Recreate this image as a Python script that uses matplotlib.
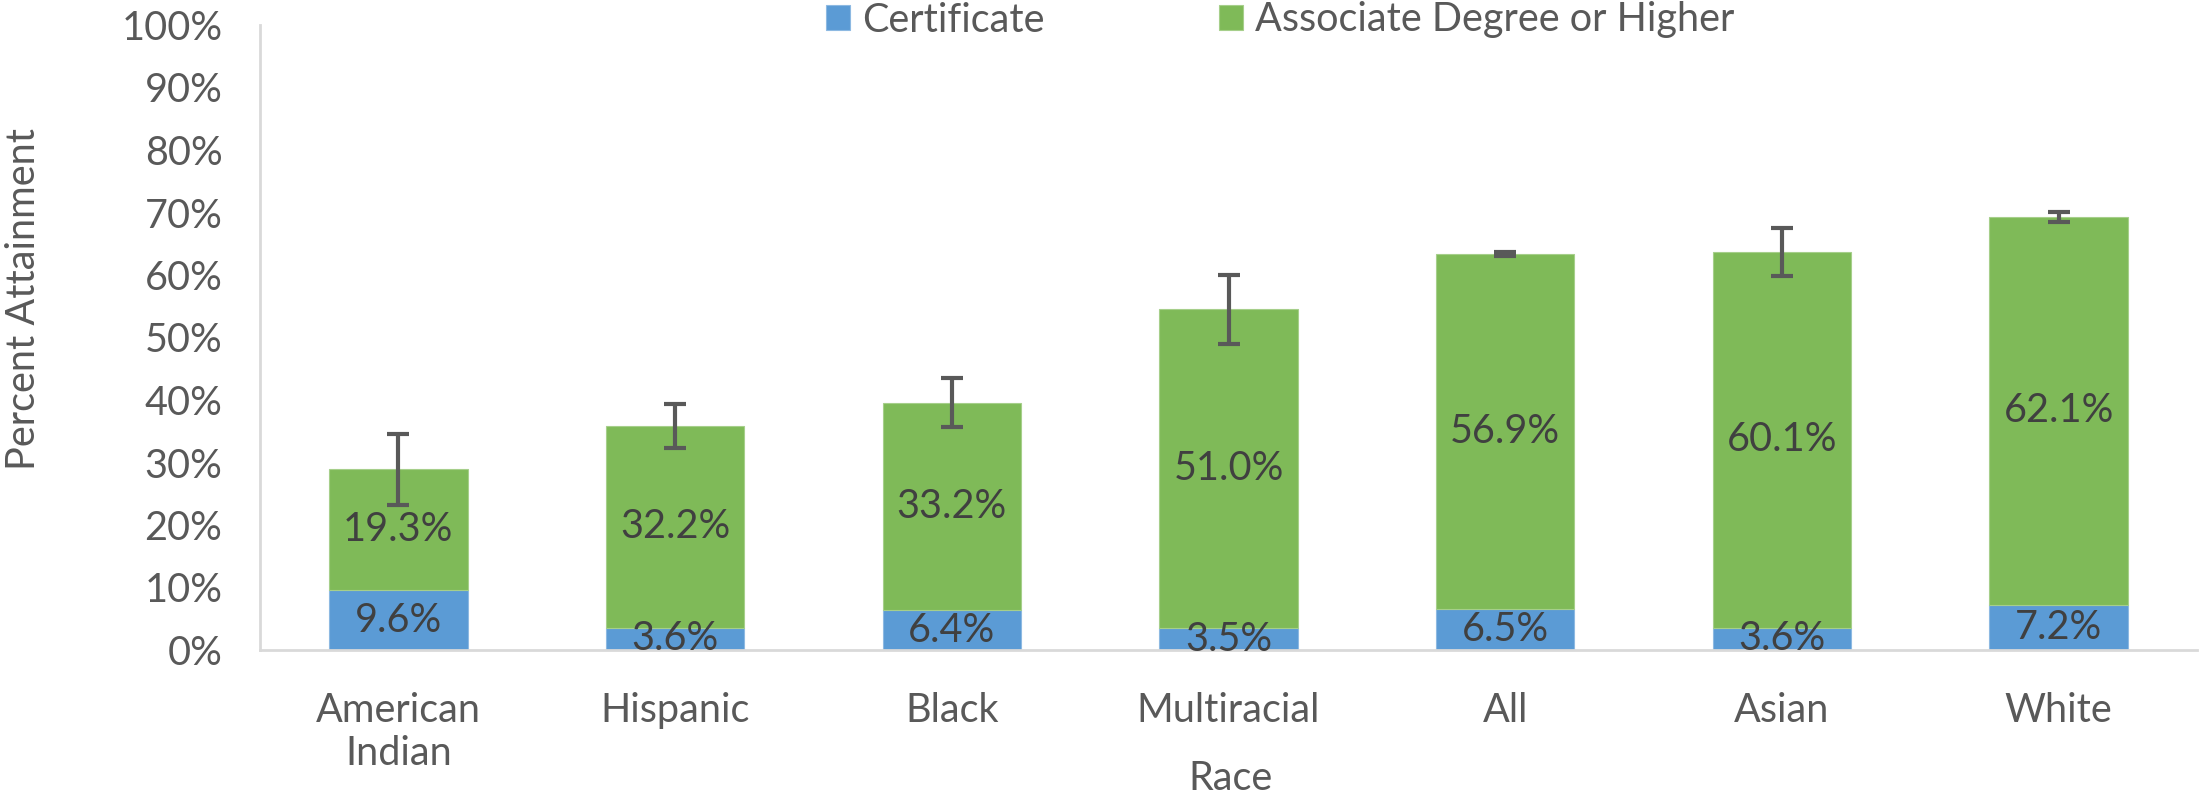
import matplotlib
matplotlib.use("Agg")
import matplotlib.pyplot as plt
import numpy as np
from matplotlib.ticker import PercentFormatter

categories = ["American\nIndian", "Hispanic", "Black", "Multiracial", "All", "Asian", "White"]
certificate = [9.6, 3.6, 6.4, 3.5, 6.5, 3.6, 7.2]
associate_plus = [19.3, 32.2, 33.2, 51.0, 56.9, 60.1, 62.1]
error = [5.7, 3.5, 3.9, 5.5, 0.35, 3.8, 0.8]

BLUE = "#5B9BD5"
GREEN = "#7FBA58"
TXT = "#595959"
LBL = "#404040"
FONT = "Lato"
FS = 28.5

plt.rcParams['font.family'] = [FONT, 'DejaVu Sans']

fig = plt.figure(figsize=(22.03, 7.97), dpi=100)
ax = fig.add_axes([260/2203, 147/797, (2197-260)/2203, (650-25)/797])

x = np.arange(len(categories))
cert = np.array(certificate)
assoc = np.array(associate_plus)
total = cert + assoc

b1 = ax.bar(x, cert, width=0.5, color=BLUE, edgecolor="#8DB9E2", linewidth=0.8, label="Certificate", zorder=2)
b2 = ax.bar(x, assoc, width=0.5, bottom=cert, color=GREEN, edgecolor="#A6CF8B", linewidth=0.8,
            label="Associate Degree or Higher", zorder=2)
ax.errorbar(x, total, yerr=error, fmt='none', ecolor=TXT, elinewidth=3, capsize=8, capthick=3, zorder=3)

for i in range(len(x)):
    ax.text(x[i], cert[i] / 2, f"{cert[i]:.1f}%", ha='center', va='center', fontsize=FS, color=LBL, zorder=4)
    ax.text(x[i], cert[i] + assoc[i] / 2, f"{assoc[i]:.1f}%", ha='center', va='center', fontsize=FS, color=LBL, zorder=4)

ax.set_xlim(-0.5, len(x) - 0.5)
ax.set_ylim(0, 100)
ax.set_yticks(np.arange(0, 101, 10))
ax.yaxis.set_major_formatter(PercentFormatter(decimals=0))
ax.set_xticks(x)
ax.set_xticklabels(categories)
ax.tick_params(axis='both', length=0, labelsize=FS, labelcolor=TXT)
ax.tick_params(axis='x', pad=30)
ax.tick_params(axis='y', pad=27)

for s in ['top', 'right']:
    ax.spines[s].set_visible(False)
for s in ['left', 'bottom']:
    ax.spines[s].set_color("#D9D9D9")
    ax.spines[s].set_linewidth(2)

fig.text(24/2203, 1 - 299/797, "Percent Attainment", rotation=90, ha='center', va='center', fontsize=FS, color=TXT)
fig.text(1230/2203, 1 - 779/797, "Race", ha='center', va='center', fontsize=FS, color=TXT)

leg = fig.legend(handles=[b1, b2], loc='center', bbox_to_anchor=(1280/2203, 1 - 20/797), ncol=2,
                 frameon=False, fontsize=FS, handlelength=0.62, handleheight=0.62, handletextpad=0.3,
                 columnspacing=4.4, borderpad=0, borderaxespad=0)
for t in leg.get_texts():
    t.set_color(TXT)

fig.savefig("out.png", dpi=100)
